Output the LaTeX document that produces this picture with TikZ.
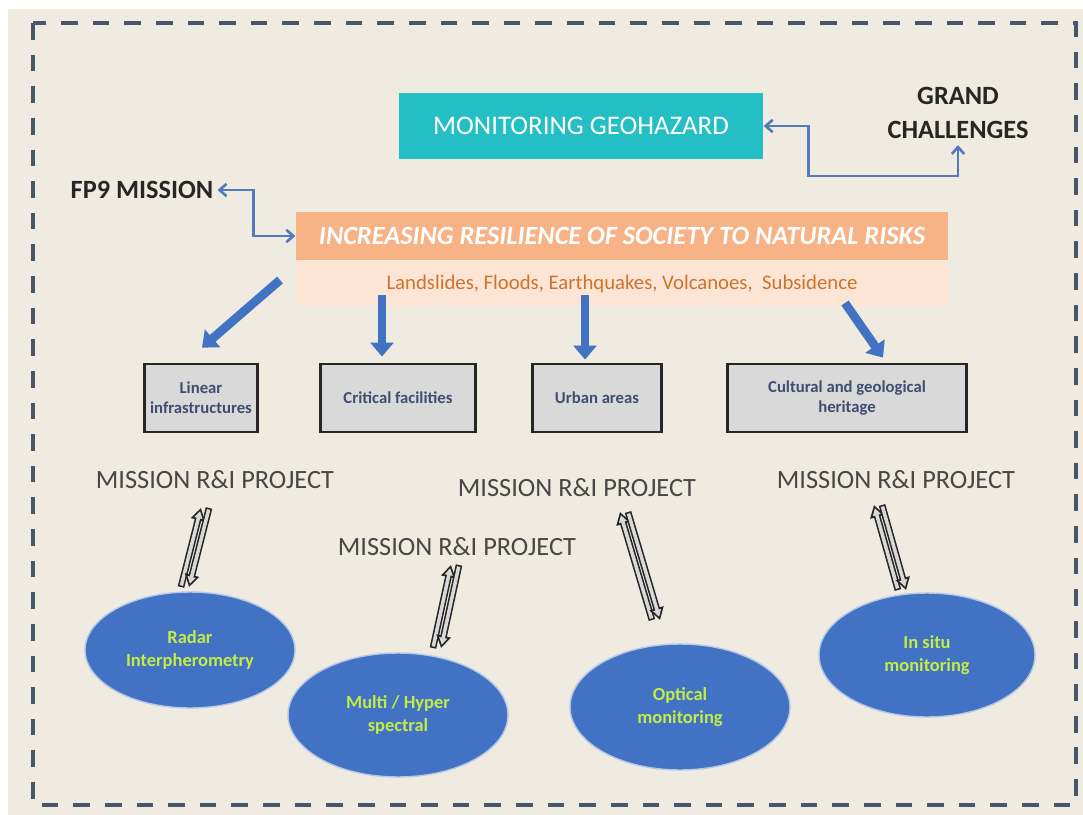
\documentclass[tikz,border=0pt]{standalone}
\usepackage{fontspec}
\setmainfont{Carlito}
\usetikzlibrary{positioning, arrows.meta, shapes.geometric, calc}
\definecolor{paper}{RGB}{239,235,224}
\definecolor{frameGray}{RGB}{72,86,106}
\definecolor{geoTeal}{RGB}{36,191,196}
\definecolor{riskOrange}{RGB}{247,178,134}
\definecolor{riskPeach}{RGB}{252,229,212}
\definecolor{hazardText}{RGB}{205,115,45}
\definecolor{linkBlue}{RGB}{82,122,190}
\definecolor{techBlue}{RGB}{66,114,196}
\definecolor{techGreen}{RGB}{196,236,70}
\definecolor{assetText}{RGB}{62,78,112}

\begin{document}
\begin{tikzpicture}[x=0.02cm, y=-0.02cm, thick,
  project/.style={font=\fontsize{15}{18}\selectfont, text=black!72},
  heading/.style={font=\bfseries\fontsize{15}{19}\selectfont, text=black!85, align=center},
  asset/.style={draw=black!85, line width=1.6pt, fill=black!15, align=center, text=assetText, font=\bfseries\fontsize{9.5}{11.5}\selectfont, minimum height=1.36cm},
  tech/.style={ellipse, draw=white!60!techBlue, line width=0.8pt, fill=techBlue, text=techGreen, align=center, inner sep=0pt, font=\bfseries\fontsize{10.5}{13}\selectfont},
  block/.style={-{Triangle[length=8pt, width=13pt]}, line width=5pt, draw=techBlue},
  link/.style={{Straight Barb[length=4pt, width=7pt]}-{Straight Barb[length=4pt, width=7pt]}, line width=1.5pt, draw=linkBlue},
  hollowout/.style={-{Triangle[length=7pt, width=8pt]}, line width=3.8pt, draw=black!85},
  hollowin/.style={-{Triangle[length=4pt, width=4.4pt]}, line width=2pt, draw=black!15, shorten >=1.9pt, shorten <=0.9pt}]
  % page and dashed frame
  \useasboundingbox (0,0) rectangle (1083,815);
  \fill[white] (0,0) rectangle (1083,815);
  \fill[paper] (8,9) rectangle (1083,815);
  \draw[frameGray, line width=2.8pt, dash pattern=on 9.5pt off 8.5pt] (33,23) rectangle (1076,805);

  % top of the diagram
  \node[fill=geoTeal, minimum width=7.28cm, minimum height=1.34cm, text=white, font=\fontsize{15.3}{18}\selectfont] (geo) at (581,126) {MONITORING GEOHAZARD};
  \node[heading] (grand) at (958,113) {GRAND\\CHALLENGES};
  \node[heading, inner sep=2pt] (fp9) at (142,190) {FP9 MISSION};
  \node[fill=riskOrange, minimum width=13.04cm, minimum height=0.96cm, text=white, font=\bfseries\itshape\fontsize{15}{18}\selectfont] (resil) at (622,236) {INCREASING RESILIENCE OF SOCIETY TO NATURAL RISKS};
  \node[fill=riskPeach, minimum width=13.04cm, minimum height=0.9cm, text=hazardText, font=\fontsize{11.8}{14}\selectfont, below=0pt of resil] (hazards) {Landslides, Floods, Earthquakes, Volcanoes,\ \ Subsidence};

  \draw[link] (geo.east) -- ++(45,0) -- ++(0,50) -| (grand.south);
  \draw[link] (fp9.east) -- ++(36,0) |- (resil.west);

  % exposed elements
  \node[asset, minimum width=2.14cm] (linear) at (201,398) {Linear\\infrastructures};
  \node[asset, minimum width=3.1cm] (critical) at (398,398) {Critical facilities};
  \node[asset, minimum width=2.58cm] (urban) at (597,398) {Urban areas};
  \node[asset, minimum width=4.78cm] (heritage) at (847,398) {Cultural and geological\\heritage};

  \coordinate (tail1) at (280,280);
  \coordinate (tail2) at (382,295);
  \coordinate (tail3) at (585,295);
  \coordinate (tail4) at (845,303);
  \draw[block] (tail1) -- ([shift={(1,-15)}]linear.north);
  \draw[block] (tail2) -- ([shift={(-16,-6)}]critical.north);
  \draw[block] (tail3) -- ([shift={(-12,-3)}]urban.north);
  \draw[block] (tail4) -- ([shift={(36,-5)}]heritage.north);

  % projects and techniques
  \node[project] (proj1) at (215,480) {MISSION R\&I PROJECT};
  \node[project] (proj2) at (457,547) {MISSION R\&I PROJECT};
  \node[project] (proj3) at (577,488) {MISSION R\&I PROJECT};
  \node[project] (proj4) at (896,480) {MISSION R\&I PROJECT};

  \node[tech, minimum width=4.2cm, minimum height=2.32cm] (radar) at (190,650) {Radar\\Interpherometry};
  \node[tech, minimum width=4.4cm, minimum height=2.48cm] (multi) at (398,715) {Multi / Hyper\\spectral};
  \node[tech, minimum width=4.4cm, minimum height=2.52cm] (optical) at (680,707) {Optical\\monitoring};
  \node[tech, minimum width=4.32cm, minimum height=2.48cm] (insitu) at (927,655) {In situ\\monitoring};

  \coordinate (up1) at (205,508);  \coordinate (dn1) at (185,587);
  \coordinate (up2) at (455,565);  \coordinate (dn2) at (437,648);
  \coordinate (up3) at (624,512);  \coordinate (dn3) at (656,620);
  \coordinate (up4) at (878,505);  \coordinate (dn4) at (902,590);
  \foreach \i in {1,2,3,4}{
    \draw[hollowout] ([xshift=-2.3pt]dn\i) -- ([xshift=-2.3pt]up\i);
    \draw[hollowin] ([xshift=-2.3pt]dn\i) -- ([xshift=-2.3pt]up\i);
    \draw[hollowout] ([xshift=2.3pt]up\i) -- ([xshift=2.3pt]dn\i);
    \draw[hollowin] ([xshift=2.3pt]up\i) -- ([xshift=2.3pt]dn\i);
  }
\end{tikzpicture}
\end{document}
